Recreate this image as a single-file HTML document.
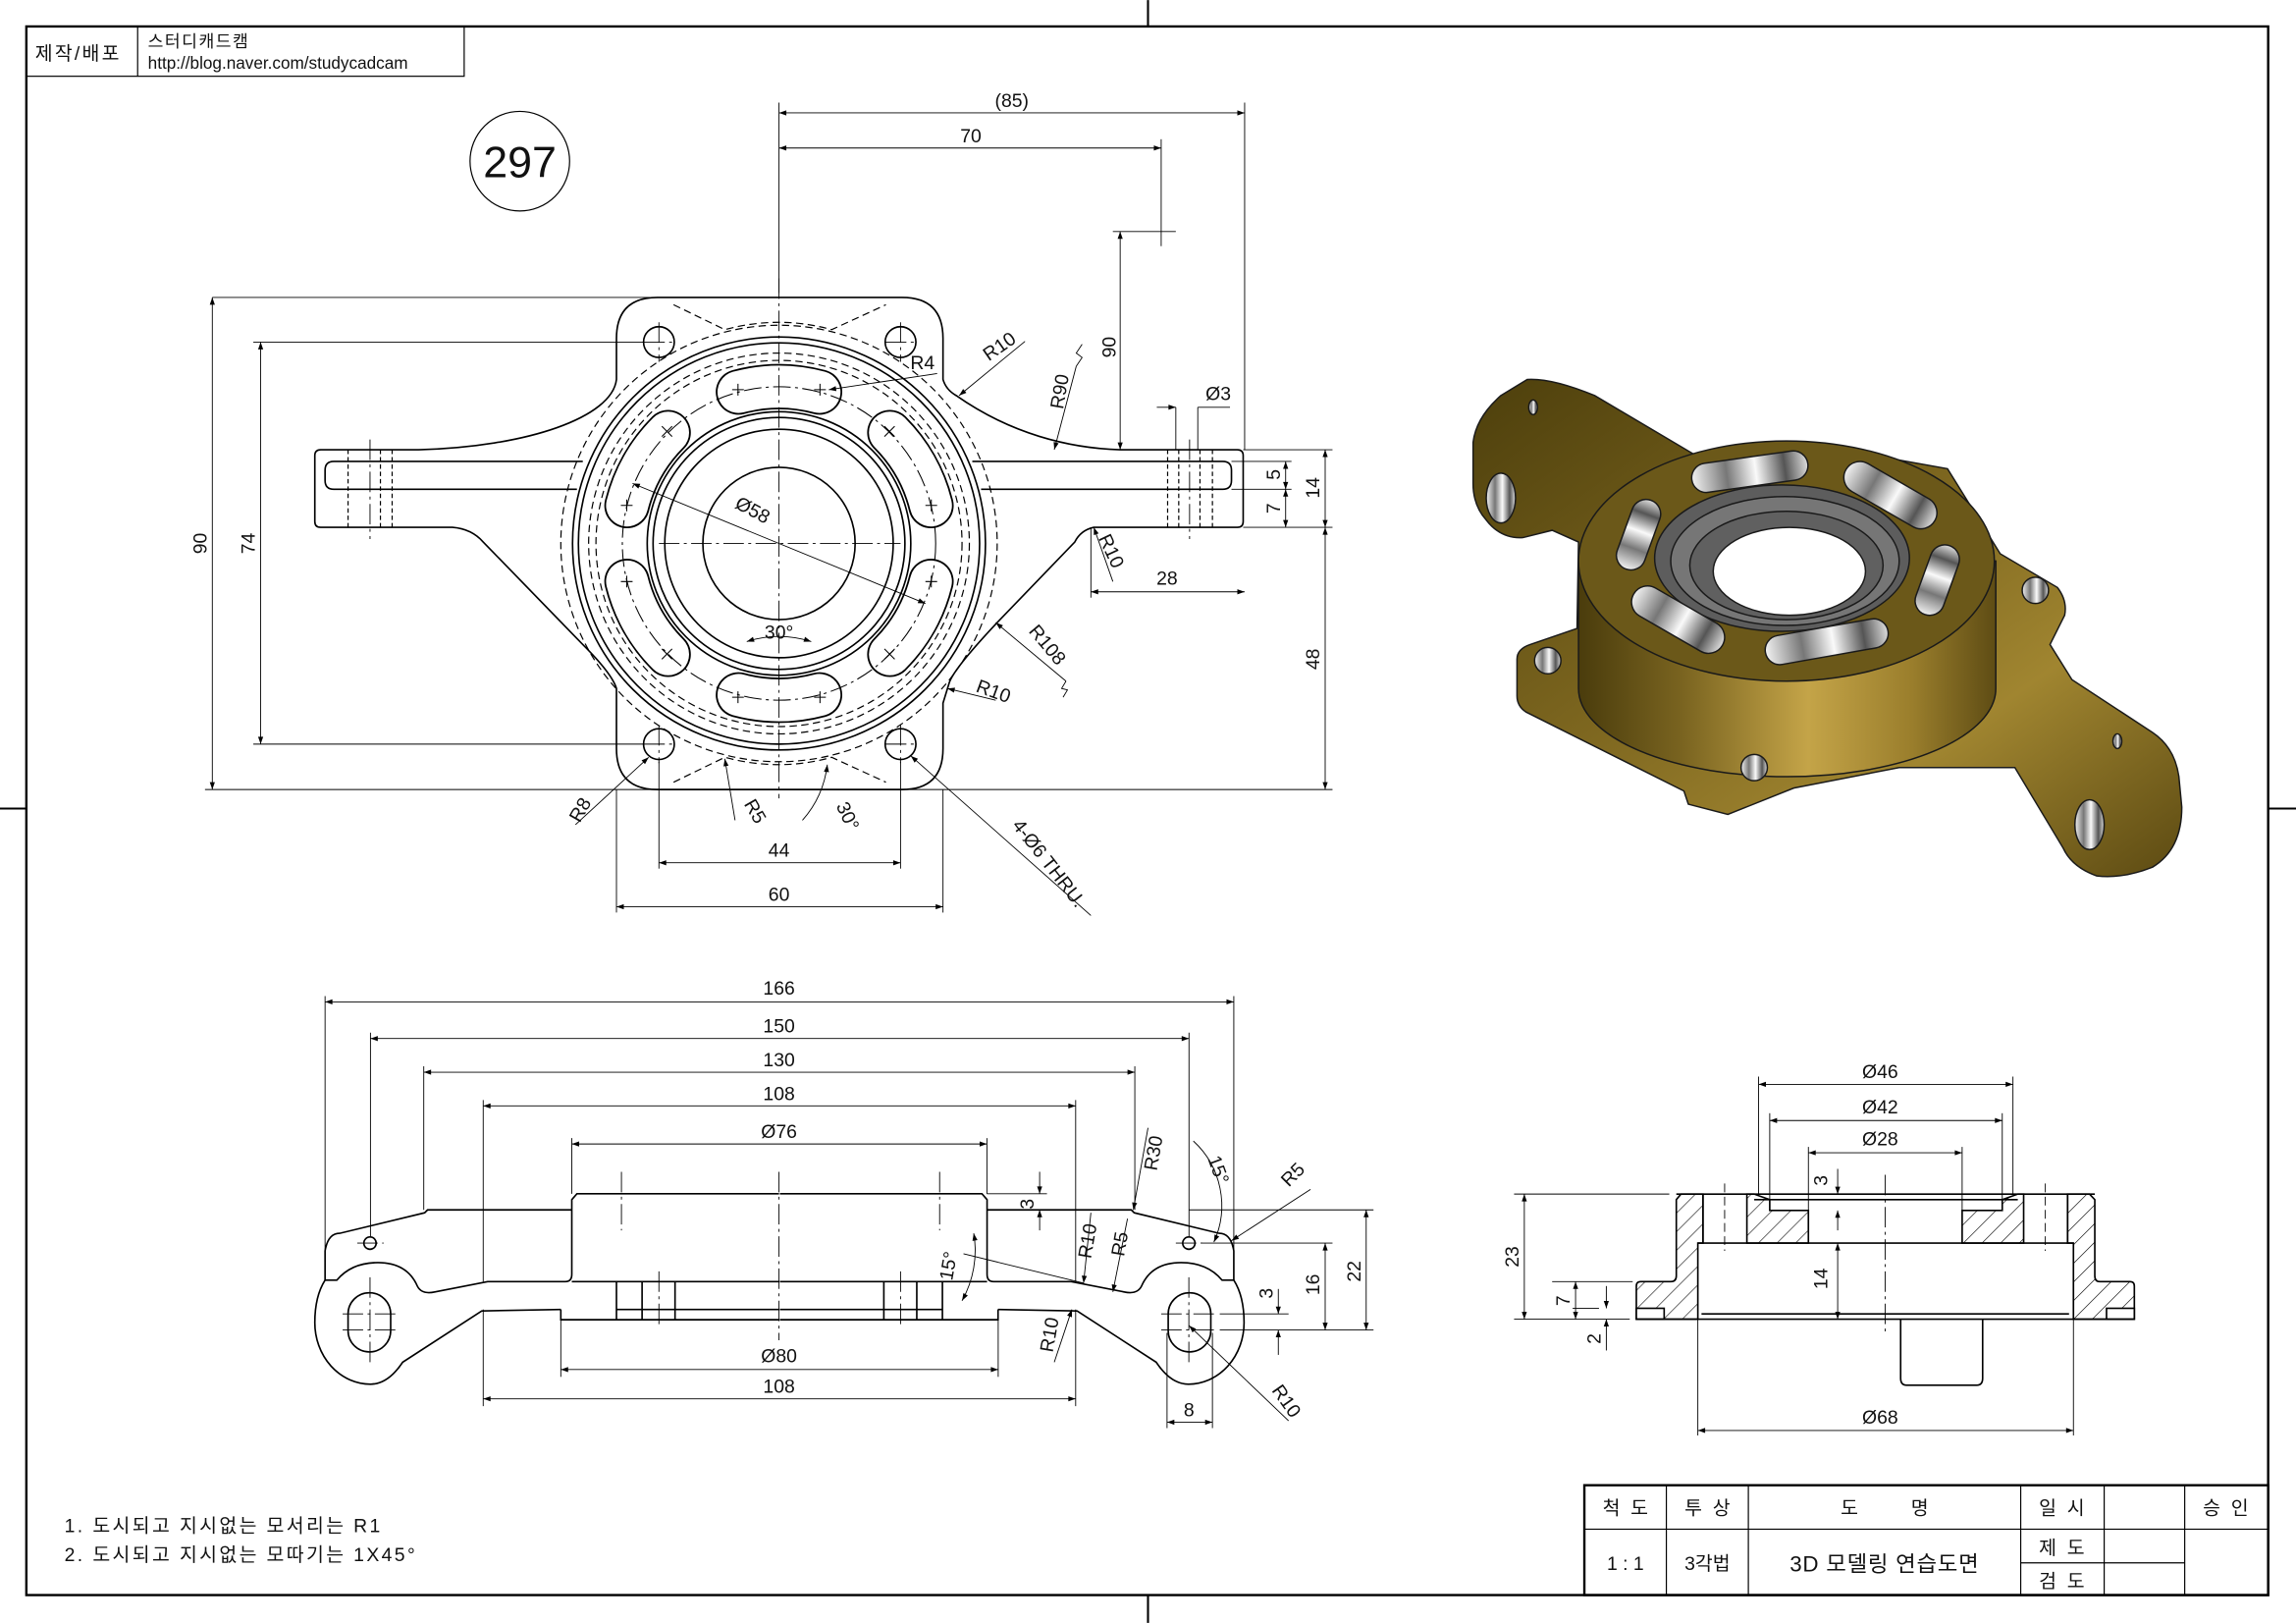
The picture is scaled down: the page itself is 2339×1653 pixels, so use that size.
<!DOCTYPE html>
<html><head><meta charset="utf-8"><style>
html,body{margin:0;padding:0;background:#fff}
svg{display:block}
text{font-family:"Liberation Sans","Noto Sans CJK KR",sans-serif;fill:#111}
</style></head><body>
<svg xmlns="http://www.w3.org/2000/svg" width="2339" height="1653" viewBox="0 0 1568 1108">
<defs>
<marker id="a" viewBox="0 0 10 10" refX="10" refY="5" markerWidth="7" markerHeight="5" orient="auto-start-reverse" markerUnits="userSpaceOnUse"><path d="M0,1.5 L10,5 L0,8.5Z" fill="#000"/></marker>
<pattern id="h" width="9" height="9" patternUnits="userSpaceOnUse" patternTransform="rotate(45)"><rect width="9" height="9" fill="#fff"/><line x1="0" y1="0" x2="0" y2="9" stroke="#000" stroke-width="0.8"/></pattern>
<linearGradient id="g1" x1="0" y1="0" x2="1" y2="1"><stop offset="0" stop-color="#4d3f0c"/><stop offset="0.45" stop-color="#7f6820"/><stop offset="0.7" stop-color="#a08530"/><stop offset="1" stop-color="#5c4a12"/></linearGradient>
<linearGradient id="g2" x1="0" y1="0" x2="1" y2="0"><stop offset="0" stop-color="#4a3c0c"/><stop offset="0.25" stop-color="#7a6420"/><stop offset="0.55" stop-color="#c4a448"/><stop offset="0.8" stop-color="#9a7e2c"/><stop offset="1" stop-color="#5e4c14"/></linearGradient>
<linearGradient id="g3" x1="0" y1="0" x2="1" y2="0"><stop offset="0" stop-color="#f2f2f2"/><stop offset="0.3" stop-color="#777"/><stop offset="0.55" stop-color="#fafafa"/><stop offset="0.8" stop-color="#555"/><stop offset="1" stop-color="#ddd"/></linearGradient>
</defs>
<rect width="1568" height="1108" fill="#fff"/>
<rect x="18" y="18" width="1531" height="1071" fill="none" stroke="#000" stroke-width="1.6"/>
<g stroke="#000" stroke-width="1.4"><line x1="784" y1="0" x2="784" y2="18"/><line x1="784" y1="1089" x2="784" y2="1108"/><line x1="0" y1="552" x2="18" y2="552"/><line x1="1549" y1="552" x2="1568" y2="552"/></g>
<rect x="18" y="18" width="299" height="34" fill="none" stroke="#000" stroke-width="0.8"/>
<line x1="94" y1="18" x2="94" y2="52" stroke="#000" stroke-width="0.8"/>
<text x="24" y="41" font-size="13" letter-spacing="1.5">제작/배포</text>
<text x="101" y="32" font-size="11.5" letter-spacing="1">스터디캐드캠</text>
<text x="101" y="47" font-size="11.5">http://blog.naver.com/studycadcam</text>
<circle cx="355" cy="110" r="34" fill="none" stroke="#000" stroke-width="0.8"/>
<text x="355" y="121" font-size="30" text-anchor="middle">297</text>

<g fill="none" stroke="#000" stroke-width="1.1">
<path d="M449,203 L616,203 Q644,203 644,231 L644,259 Q646,266 653,270 C690,296 730,306 765,307 L845,307 Q849,307 849,311 L849,356 Q849,360 845,360 L747,360 Q738,362 734,370 L681,425 Q650,458 648,467 L644,480 L644,511 Q644,539 616,539 L449,539 Q421,539 421,511 L421,470 Q418,460 398,440 L330,370 Q322,361 309,360 L219,360 Q215,360 215,356 L215,311 Q215,307 219,307 L286,307 C360,305 418,285 421,259 L421,231 Q421,203 449,203Z"/>
<path d="M398,315 L228,315 Q222,315 222,321 L222,328 Q222,334 228,334 L394,334"/>
<path d="M664,315 L835,315 Q841,315 841,321 L841,328 Q841,334 835,334 L670,334"/>
<circle cx="532" cy="371" r="141"/><circle cx="532" cy="371" r="137"/>
<circle cx="532" cy="371" r="90"/><circle cx="532" cy="371" r="86"/><circle cx="532" cy="371" r="78"/>
<circle cx="532" cy="371" r="52"/>
<circle cx="450" cy="233.5" r="10.5"/><circle cx="615" cy="233.5" r="10.5"/><circle cx="450" cy="508" r="10.5"/><circle cx="615" cy="508" r="10.5"/>
</g>
<g fill="none" stroke="#000" stroke-width="0.8" stroke-dasharray="5,3">
<circle cx="532" cy="371" r="149"/><circle cx="532" cy="371" r="130"/><circle cx="532" cy="371" r="125"/>
<path d="M460,208 L495,225 Q532,215 568,225 L605,208"/>
<path d="M460,534 L495,517 Q532,527 568,517 L605,534"/>
<g stroke-dasharray="3,2"><line x1="237.7" y1="307" x2="237.7" y2="360"/><line x1="259.8" y1="307" x2="259.8" y2="360"/><line x1="267.8" y1="307" x2="267.8" y2="360"/><line x1="797.4" y1="307" x2="797.4" y2="360"/><line x1="805" y1="307" x2="805" y2="360"/><line x1="819.5" y1="307" x2="819.5" y2="360"/><line x1="828" y1="307" x2="828" y2="360"/></g>
</g>
<g fill="none" stroke-linecap="round">
<g stroke="#000" stroke-width="31">
<path d="M559.7,267.6 A107,107 0 0 0 504.3,267.6"/><path d="M456.3,295.3 A107,107 0 0 0 428.2,345.1"/><path d="M428.2,396.9 A107,107 0 0 0 456.3,446.7"/>
<path d="M504.3,474.4 A107,107 0 0 0 559.7,474.4"/><path d="M607.7,446.7 A107,107 0 0 0 635.8,396.9"/><path d="M635.8,345.1 A107,107 0 0 0 607.7,295.3"/>
</g>
<g stroke="#fff" stroke-width="28.6">
<path d="M559.7,267.6 A107,107 0 0 0 504.3,267.6"/><path d="M456.3,295.3 A107,107 0 0 0 428.2,345.1"/><path d="M428.2,396.9 A107,107 0 0 0 456.3,446.7"/>
<path d="M504.3,474.4 A107,107 0 0 0 559.7,474.4"/><path d="M607.7,446.7 A107,107 0 0 0 635.8,396.9"/><path d="M635.8,345.1 A107,107 0 0 0 607.7,295.3"/>
</g>
</g>
<g fill="none" stroke="#000" stroke-width="0.7">
<circle cx="532" cy="371" r="107" stroke-dasharray="12,3,2,3"/>
<circle cx="532" cy="371" r="90"/><circle cx="532" cy="371" r="86"/>
<path d="M500,266 h8 M504,262 v8 M556,266 h8 M560,262 v8 M500,476 h8 M504,472 v8 M556,476 h8 M560,472 v8"/>
<path d="M452,291 l7,7 M459,291 l-7,7 M604,291 l7,7 M611,291 l-7,7 M452,443 l7,7 M459,443 l-7,7 M604,443 l7,7 M611,443 l-7,7"/>
<path d="M424,345 h8 M428,341 v8 M424,397 h8 M428,393 v8 M632,345 h8 M636,341 v8 M632,397 h8 M636,393 v8"/>
</g>
<g stroke="#000" stroke-width="0.6" stroke-dasharray="14,3,2,3" fill="none">
<line x1="532" y1="190" x2="532" y2="545"/>
<line x1="450" y1="371" x2="615" y2="371"/>
<line x1="252.7" y1="300" x2="252.7" y2="368"/><line x1="812.4" y1="300" x2="812.4" y2="368"/>
<line x1="440" y1="233.5" x2="460" y2="233.5"/><line x1="605" y1="233.5" x2="625" y2="233.5"/>
<line x1="440" y1="508" x2="460" y2="508"/><line x1="605" y1="508" x2="625" y2="508"/>
<line x1="450" y1="220" x2="450" y2="247"/><line x1="615" y1="220" x2="615" y2="247"/><line x1="450" y1="495" x2="450" y2="521"/><line x1="615" y1="495" x2="615" y2="521"/>
</g>
<g stroke="#000" stroke-width="0.6" fill="none">
<line x1="532" y1="70" x2="532" y2="200"/><line x1="850" y1="70" x2="850" y2="307"/><line x1="793" y1="95" x2="793" y2="168"/>
<line x1="760" y1="158" x2="803" y2="158"/>
<line x1="145" y1="203" x2="445" y2="203"/><line x1="140" y1="539" x2="910" y2="539"/>
<line x1="173" y1="233.5" x2="440" y2="233.5"/><line x1="173" y1="508" x2="440" y2="508"/>
<line x1="849" y1="307" x2="910" y2="307"/><line x1="841" y1="315" x2="882" y2="315"/><line x1="841" y1="334" x2="882" y2="334"/><line x1="849" y1="360" x2="910" y2="360"/>
<line x1="745" y1="360" x2="745" y2="408"/>
<line x1="421" y1="539" x2="421" y2="623"/><line x1="644" y1="539" x2="644" y2="623"/><line x1="450" y1="520" x2="450" y2="593"/><line x1="615" y1="520" x2="615" y2="593"/>
<line x1="803" y1="278" x2="803" y2="307"/><line x1="818" y1="278" x2="818" y2="307"/><line x1="818" y1="278" x2="840" y2="278"/>
<g marker-start="url(#a)" marker-end="url(#a)">
<line x1="532" y1="77" x2="850" y2="77"/><line x1="532" y1="101" x2="793" y2="101"/>
<line x1="765" y1="158" x2="765" y2="307"/>
<line x1="878" y1="315" x2="878" y2="334"/><line x1="905" y1="307" x2="905" y2="360"/><line x1="878" y1="334" x2="878" y2="360"/>
<line x1="745" y1="404" x2="850" y2="404"/><line x1="905" y1="360" x2="905" y2="539"/>
<line x1="145" y1="203" x2="145" y2="539"/><line x1="178" y1="233.5" x2="178" y2="508"/>
<line x1="450" y1="589" x2="615" y2="589"/><line x1="421" y1="619" x2="644" y2="619"/>
<line x1="432" y1="330" x2="632" y2="412"/>
</g>
<line x1="790" y1="278" x2="803" y2="278" marker-end="url(#a)"/>
<path d="M510,438 A70,70 0 0 1 554,438" marker-start="url(#a)" marker-end="url(#a)"/>
<path d="M565,522 A70,70 0 0 1 548,560" marker-start="url(#a)"/>
<line x1="640" y1="255" x2="566" y2="266" marker-end="url(#a)"/>
<line x1="700" y1="233" x2="655" y2="270" marker-end="url(#a)"/>
<line x1="735" y1="250" x2="720" y2="307" marker-end="url(#a)"/>
<path d="M735,250 l4,-6 l-4,-3 l4,-6"/>
<line x1="760" y1="397" x2="747" y2="360" marker-end="url(#a)"/>
<line x1="728" y1="465" x2="680" y2="425" marker-end="url(#a)"/>
<path d="M728,465 l-3,5 l4,1 l-3,5"/>
<line x1="680" y1="478" x2="647" y2="470" marker-end="url(#a)"/>
<line x1="393" y1="563" x2="443" y2="517" marker-end="url(#a)"/>
<line x1="502" y1="560" x2="495" y2="518" marker-end="url(#a)"/>
<line x1="745" y1="625" x2="622" y2="516" marker-end="url(#a)"/>
</g>
<g font-size="13">
<text x="691" y="73" text-anchor="middle">(85)</text>
<text x="663" y="97" text-anchor="middle">70</text>
<text transform="translate(762,237) rotate(-90)" text-anchor="middle">90</text>
<text transform="translate(728,268) rotate(-80)" text-anchor="middle">R90</text>
<text x="832" y="273" text-anchor="middle">Ø3</text>
<text transform="translate(874,324) rotate(-90)" text-anchor="middle">5</text>
<text transform="translate(874,347) rotate(-90)" text-anchor="middle">7</text>
<text transform="translate(901,333) rotate(-90)" text-anchor="middle">14</text>
<text x="797" y="399" text-anchor="middle">28</text>
<text transform="translate(901,450) rotate(-90)" text-anchor="middle">48</text>
<text transform="translate(141,371) rotate(-90)" text-anchor="middle">90</text>
<text transform="translate(174,371) rotate(-90)" text-anchor="middle">74</text>
<text x="532" y="585" text-anchor="middle">44</text>
<text x="532" y="615" text-anchor="middle">60</text>
<text x="630" y="252" text-anchor="middle">R4</text>
<text transform="translate(685,240) rotate(-35)" text-anchor="middle">R10</text>
<text transform="translate(755,378) rotate(65)" text-anchor="middle">R10</text>
<text transform="translate(712,443) rotate(50)" text-anchor="middle">R108</text>
<text transform="translate(677,476) rotate(20)" text-anchor="middle">R10</text>
<text transform="translate(400,555) rotate(-60)" text-anchor="middle">R8</text>
<text transform="translate(512,556) rotate(60)" text-anchor="middle">R5</text>
<text transform="translate(575,559) rotate(65)" text-anchor="middle">30°</text>
<text x="532" y="436" text-anchor="middle">30°</text>
<text transform="translate(713,592) rotate(52)" text-anchor="middle">4-Ø6 THRU.</text>
<text transform="translate(512,352) rotate(28)" text-anchor="middle">Ø58</text>
</g>

<g id="fl" fill="none" stroke="#000" stroke-width="1.1">
<path d="M532,815 L394,815 L390.5,819 L390.5,870 Q390.5,875 386,875 L333,875 L297,882 Q288,884 285,878 Q278,862 258,862 Q240,862 230,874 L222,874 L222,854 Q224,842 232,842 L290,828 L292,826 L390.5,826"/>
<path d="M222,874 Q215,885 215,903 A38,42 0 0 0 253,945 Q265,945 275,930 L329,895 L383,894"/>
<path d="M421,875 L421,901 L383,901 L383,894 M421,894 L532,894 M421,901 L532,901"/>
<rect x="237.7" y="882.6" width="29.1" height="40.4" rx="14.5"/>
<circle cx="252.7" cy="848.7" r="4.2"/>
<line x1="438.5" y1="875" x2="438.5" y2="901"/><line x1="461" y1="875" x2="461" y2="901"/>
<line x1="390.5" y1="875" x2="532" y2="875"/>
</g>
<use href="#fl" transform="translate(1064.6,0) scale(-1,1)"/>
<g stroke="#000" stroke-width="0.6" stroke-dasharray="14,3,2,3" fill="none">
<line x1="532" y1="800" x2="532" y2="915"/>
<line x1="424.4" y1="800" x2="424.4" y2="840"/><line x1="641.7" y1="800" x2="641.7" y2="840"/>
<line x1="450" y1="868" x2="450" y2="907"/><line x1="615" y1="868" x2="615" y2="907"/>
<line x1="252.7" y1="872" x2="252.7" y2="932"/><line x1="811.9" y1="872" x2="811.9" y2="932"/>
<line x1="234" y1="897" x2="272" y2="897"/><line x1="234" y1="908" x2="272" y2="908"/>
<line x1="793" y1="897" x2="831" y2="897"/><line x1="793" y1="908" x2="831" y2="908"/>
<line x1="244" y1="848.7" x2="262" y2="848.7"/><line x1="803" y1="848.7" x2="821" y2="848.7"/>
</g>
<g stroke="#000" stroke-width="0.6" fill="none">
<line x1="222" y1="680" x2="222" y2="854"/><line x1="842.6" y1="680" x2="842.6" y2="854"/>
<line x1="253" y1="705" x2="253" y2="844"/><line x1="812" y1="705" x2="812" y2="844"/>
<line x1="289.4" y1="728" x2="289.4" y2="826"/><line x1="775" y1="728" x2="775" y2="826"/>
<line x1="330" y1="751" x2="330" y2="875"/><line x1="734.6" y1="751" x2="734.6" y2="875"/>
<line x1="390.5" y1="777" x2="390.5" y2="815"/><line x1="674" y1="777" x2="674" y2="815"/>
<line x1="383" y1="901" x2="383" y2="940"/><line x1="681.7" y1="901" x2="681.7" y2="940"/>
<line x1="330" y1="894" x2="330" y2="960"/><line x1="734.6" y1="894" x2="734.6" y2="960"/>
<line x1="797" y1="910" x2="797" y2="975"/><line x1="828" y1="910" x2="828" y2="975"/>
<line x1="674" y1="815" x2="715" y2="815"/>
<line x1="812" y1="826" x2="938" y2="826"/><line x1="820" y1="848.7" x2="910" y2="848.7"/><line x1="833" y1="897" x2="880" y2="897"/><line x1="833" y1="908" x2="938" y2="908"/>
<g marker-start="url(#a)" marker-end="url(#a)">
<line x1="222" y1="684" x2="842.6" y2="684"/><line x1="253" y1="709" x2="812" y2="709"/>
<line x1="289.4" y1="732" x2="775" y2="732"/><line x1="330" y1="755" x2="734.6" y2="755"/>
<line x1="390.5" y1="781" x2="674" y2="781"/><line x1="383" y1="935" x2="681.7" y2="935"/>
<line x1="330" y1="955" x2="734.6" y2="955"/><line x1="797" y1="971" x2="828" y2="971"/>
<line x1="905" y1="848.7" x2="905" y2="908"/><line x1="933" y1="826" x2="933" y2="908"/>
</g>
<line x1="710" y1="800" x2="710" y2="815" marker-end="url(#a)"/><line x1="710" y1="840" x2="710" y2="826" marker-end="url(#a)"/>
<line x1="873" y1="880" x2="873" y2="897" marker-end="url(#a)"/><line x1="873" y1="925" x2="873" y2="908" marker-end="url(#a)"/>
<line x1="784" y1="770" x2="774" y2="826" marker-end="url(#a)"/>
<path d="M815,779 A60,60 0 0 1 829,848" marker-end="url(#a)"/>
<line x1="895" y1="812" x2="841" y2="847" marker-end="url(#a)"/>
<line x1="745" y1="828" x2="740" y2="876" marker-end="url(#a)"/>
<line x1="770" y1="832" x2="760" y2="882" marker-end="url(#a)"/>
<line x1="720" y1="930" x2="732" y2="894" marker-end="url(#a)"/>
<line x1="880" y1="970" x2="812" y2="905" marker-end="url(#a)"/>
<path d="M665,842 A70,70 0 0 1 657,888" marker-start="url(#a)" marker-end="url(#a)"/>
<line x1="658" y1="856" x2="740" y2="876"/>
</g>
<g font-size="13">
<text x="532" y="679" text-anchor="middle">166</text>
<text x="532" y="705" text-anchor="middle">150</text>
<text x="532" y="728" text-anchor="middle">130</text>
<text x="532" y="751" text-anchor="middle">108</text>
<text x="532" y="777" text-anchor="middle">Ø76</text>
<text x="532" y="930" text-anchor="middle">Ø80</text>
<text x="532" y="951" text-anchor="middle">108</text>
<text x="812" y="967" text-anchor="middle">8</text>
<text transform="translate(706,822) rotate(-90)" text-anchor="middle">3</text>
<text transform="translate(869,883) rotate(-90)" text-anchor="middle">3</text>
<text transform="translate(901,877) rotate(-90)" text-anchor="middle">16</text>
<text transform="translate(929,868) rotate(-90)" text-anchor="middle">22</text>
<text transform="translate(792,788) rotate(-80)" text-anchor="middle">R30</text>
<text transform="translate(828,800) rotate(70)" text-anchor="middle">15°</text>
<text transform="translate(886,805) rotate(-45)" text-anchor="middle">R5</text>
<text transform="translate(747,848) rotate(-80)" text-anchor="middle">R10</text>
<text transform="translate(769,850) rotate(-80)" text-anchor="middle">R5</text>
<text transform="translate(652,865) rotate(-80)" text-anchor="middle">15°</text>
<text transform="translate(721,912) rotate(-80)" text-anchor="middle">R10</text>
<text transform="translate(875,959) rotate(55)" text-anchor="middle">R10</text>
</g>

<g stroke="#000" stroke-width="1.1">
<path fill="url(#h)" d="M1144.8,819 L1148,815.2 L1163,815.2 L1163,848.7 L1159.5,848.7 L1159.5,900.6 L1117.5,900.6 L1117.5,878 Q1117.5,875 1120.5,875 L1141,875 Q1144.8,875 1144.8,871Z"/>
<path fill="url(#h)" d="M1193,815.2 L1198,815.2 L1208.6,819 L1208.6,826.4 L1235,826.4 L1235,848.7 L1193,848.7Z"/>
<path fill="url(#h)" d="M1340,826.4 L1367.4,826.4 L1367.4,819 L1378,815.2 L1382,815.2 L1382,848.7 L1340,848.7Z"/>
<path fill="url(#h)" d="M1427,815.2 L1430.6,819 L1430.6,871 Q1430.6,875 1434,875 L1454.6,875 Q1457.6,875 1457.6,878 L1457.6,900.6 L1416,900.6 L1416,848.7 L1412,848.7 L1412,815.2Z"/>
<rect x="1117.5" y="893.2" width="19" height="7.4" fill="#fff"/>
<rect x="1438.6" y="893.2" width="19" height="7.4" fill="#fff"/>
<g fill="none">
<line x1="1144.8" y1="815.2" x2="1430.6" y2="815.2"/>
<line x1="1163" y1="815.2" x2="1163" y2="848.7"/><line x1="1412" y1="815.2" x2="1412" y2="848.7"/>
<line x1="1159.5" y1="848.7" x2="1416" y2="848.7"/>
<line x1="1198" y1="819" x2="1378" y2="819"/>
<line x1="1162" y1="897" x2="1413" y2="897"/>
<line x1="1117.5" y1="900.6" x2="1457.6" y2="900.6"/>
<path d="M1298,900.6 L1298,941 Q1298,945.7 1302,945.7 L1350,945.7 Q1354,945.7 1354,941 L1354,900.6"/>
</g>
</g>
<g stroke="#000" stroke-width="0.6" fill="none">
<g stroke-dasharray="6,3"><line x1="1177.8" y1="808" x2="1177.8" y2="854"/><line x1="1396.8" y1="808" x2="1396.8" y2="854"/></g>
<line x1="1287.4" y1="802" x2="1287.4" y2="910" stroke-dasharray="14,3,2,3"/>
<line x1="1201" y1="735" x2="1201" y2="815"/><line x1="1374.7" y1="735" x2="1374.7" y2="815"/>
<line x1="1208.6" y1="760" x2="1208.6" y2="819"/><line x1="1367.4" y1="760" x2="1367.4" y2="819"/>
<line x1="1235" y1="783" x2="1235" y2="826"/><line x1="1340" y1="783" x2="1340" y2="826"/>
<line x1="1159.5" y1="900.6" x2="1159.5" y2="980"/><line x1="1416" y1="900.6" x2="1416" y2="980"/>
<line x1="1034" y1="815.2" x2="1140" y2="815.2"/><line x1="1034" y1="900.6" x2="1113" y2="900.6"/>
<line x1="1060" y1="875" x2="1115" y2="875"/><line x1="1074" y1="893.2" x2="1092" y2="893.2"/>
<g marker-start="url(#a)" marker-end="url(#a)">
<line x1="1201" y1="740.3" x2="1374.7" y2="740.3"/><line x1="1208.6" y1="765" x2="1367.4" y2="765"/>
<line x1="1235" y1="787" x2="1340" y2="787"/><line x1="1159.5" y1="976.6" x2="1416" y2="976.6"/>
<line x1="1255" y1="848.7" x2="1255" y2="900.6"/>
<line x1="1041" y1="815.2" x2="1041" y2="900.6"/><line x1="1076" y1="875" x2="1076" y2="900.6"/>
</g>
<line x1="1255" y1="798" x2="1255" y2="815.2" marker-end="url(#a)"/><line x1="1255" y1="840" x2="1255" y2="826.4" marker-end="url(#a)"/>
<line x1="1097" y1="878" x2="1097" y2="893.2" marker-end="url(#a)"/><line x1="1097" y1="922" x2="1097" y2="900.6" marker-end="url(#a)"/>
</g>
<g font-size="13">
<text x="1284" y="736" text-anchor="middle">Ø46</text>
<text x="1284" y="760" text-anchor="middle">Ø42</text>
<text x="1284" y="782" text-anchor="middle">Ø28</text>
<text x="1284" y="972" text-anchor="middle">Ø68</text>
<text transform="translate(1248,806) rotate(-90)" text-anchor="middle">3</text>
<text transform="translate(1248,873) rotate(-90)" text-anchor="middle">14</text>
<text transform="translate(1037,858) rotate(-90)" text-anchor="middle">23</text>
<text transform="translate(1072,888) rotate(-90)" text-anchor="middle">7</text>
<text transform="translate(1093,914) rotate(-90)" text-anchor="middle">2</text>
</g>

<g stroke="#1a1a1a" stroke-width="1">
<path fill="url(#g1)" d="M1006,302 Q1008,285 1025,270 L1043,259 Q1060,258 1089,270 L1160,312 L1230,302 L1330,320 L1366,378 L1405,401 Q1412,410 1410,420 L1400,440 L1415,464 L1470,500 Q1485,510 1488,530 L1490,551 Q1490,580 1470,592 Q1450,600 1432,598 Q1415,592 1409,579 L1376,524 L1297,524 L1225,538 L1180,556 L1153,549 L1150,540 L1042,486 Q1036,482 1036,475 L1036,450 Q1036,443 1045,440 L1077,429 L1078,370 L1060,362 L1040,367 Q1025,368 1015,355 Q1006,345 1006,330Z"/>
<path fill="url(#g2)" d="M1078,383 L1078,470 A142,60 0 0 0 1363,470 L1363,383Z"/>
<ellipse cx="1220" cy="383" rx="142" ry="82" fill="#6b5819"/>
<ellipse cx="1217" cy="381" rx="87" ry="50" fill="#5d5d5d"/>
<ellipse cx="1219" cy="383" rx="78" ry="44" fill="#767676"/>
<ellipse cx="1220" cy="386" rx="66" ry="37" fill="#606060"/>
<ellipse cx="1222" cy="390" rx="52" ry="30" fill="#fff"/>
<g fill="url(#g3)">
<rect x="1155" y="312" width="80" height="20" rx="10" transform="rotate(-8 1195 322)"/>
<rect x="1256" y="327" width="70" height="22" rx="11" transform="rotate(30 1291 338)"/>
<rect x="1094" y="355" width="50" height="20" rx="10" transform="rotate(-70 1119 365)"/>
<rect x="1111" y="412" width="70" height="22" rx="11" transform="rotate(30 1146 423)"/>
<rect x="1205" y="428" width="85" height="20" rx="10" transform="rotate(-10 1248 438)"/>
<rect x="1298" y="386" width="50" height="20" rx="10" transform="rotate(-70 1323 396)"/>
<circle cx="1390" cy="403" r="9"/><circle cx="1057" cy="451" r="9"/><circle cx="1198" cy="524" r="9"/>
<ellipse cx="1025" cy="340" rx="10" ry="17"/><ellipse cx="1427" cy="563" rx="10" ry="17"/>
<ellipse cx="1047" cy="278" rx="3" ry="5"/><ellipse cx="1446" cy="506" rx="3" ry="5"/>
</g>
</g>

<g font-size="13" letter-spacing="1.6">
<text x="44" y="1046">1. 도시되고 지시없는 모서리는 R1</text>
<text x="44" y="1066">2.  도시되고 지시없는 모따기는 1X45°</text>
</g>

<g stroke="#000" fill="none">
<rect x="1082" y="1014" width="467" height="75" stroke-width="1.6"/>
<g stroke-width="0.8">
<line x1="1082" y1="1044" x2="1549" y2="1044"/>
<line x1="1138" y1="1014" x2="1138" y2="1089"/><line x1="1194" y1="1014" x2="1194" y2="1089"/>
<line x1="1380" y1="1014" x2="1380" y2="1089"/><line x1="1437" y1="1014" x2="1437" y2="1089"/>
<line x1="1492" y1="1014" x2="1492" y2="1089"/>
<line x1="1380" y1="1067" x2="1492" y2="1067"/>
</g>
</g>
<g font-size="13" text-anchor="middle">
<text x="1110" y="1034">척&#160;&#160;도</text><text x="1166" y="1034">투&#160;&#160;상</text>
<text x="1287" y="1034">도&#160;&#160;&#160;&#160;&#160;&#160;&#160;&#160;&#160;&#160;명</text>
<text x="1408" y="1034">일&#160;&#160;시</text><text x="1520" y="1034">승&#160;&#160;인</text>
<text x="1110" y="1072">1 : 1</text><text x="1166" y="1072">3각법</text>
<text x="1287" y="1073" font-size="15" letter-spacing="0.5">3D 모델링 연습도면</text>
<text x="1408" y="1061">제&#160;&#160;도</text><text x="1408" y="1084">검&#160;&#160;도</text>
</g>
</svg>
</body></html>
